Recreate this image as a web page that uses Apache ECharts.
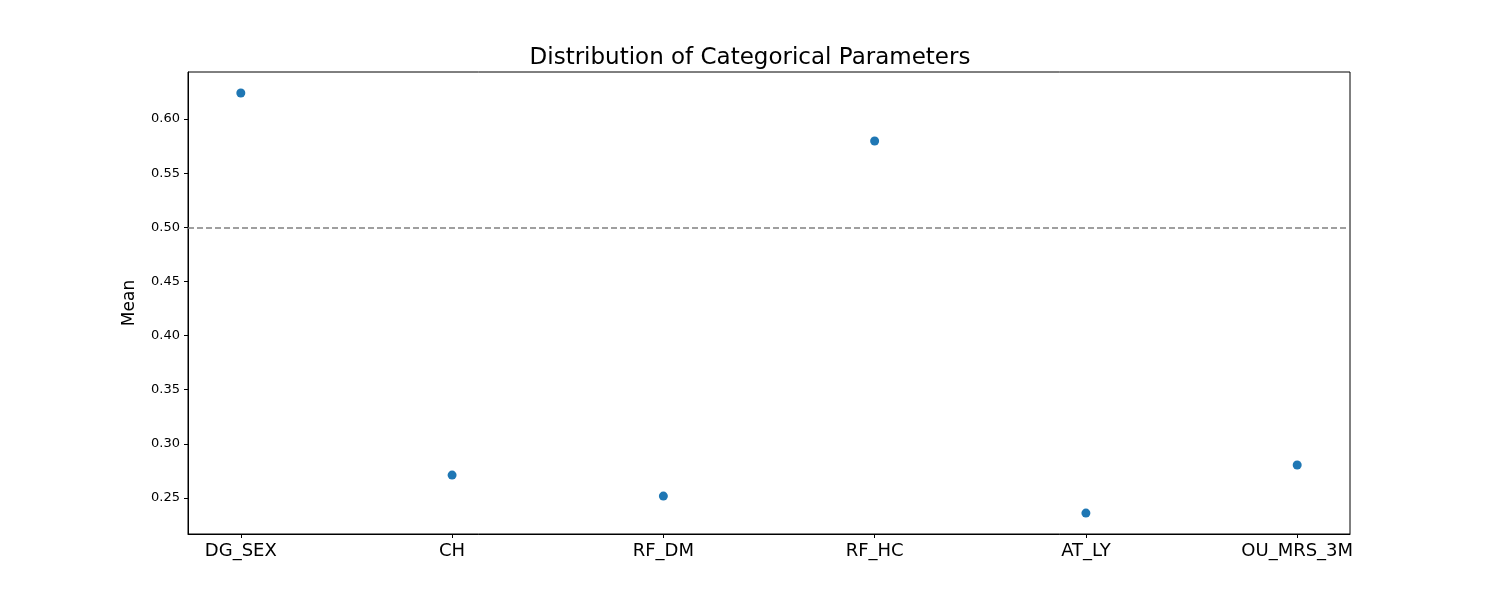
<!DOCTYPE html>
<html>
<head>
<meta charset="utf-8">
<script src="https://cdn.jsdelivr.net/npm/echarts@6/dist/echarts.min.js"></script>
<style>html,body{margin:0;background:#fff}#c{width:1500px;height:600px}</style>
</head>
<body>
<div id="c"></div>
<script>
const categories = ['DG_SEX', 'CH', 'RF_DM', 'RF_HC', 'AT_LY', 'OU_MRS_3M']
const means = [0.624, 0.2712, 0.2518, 0.5797, 0.2361, 0.2805]
const yTicks = [0.25, 0.30, 0.35, 0.40, 0.45, 0.50, 0.55, 0.60]
const refLine = 0.5

const chart = echarts.init(document.getElementById('c'))
const font = 'DejaVu Sans'
chart.setOption({
    animation: false,
    title: {
        text: 'Distribution of Categorical Parameters',
        left: 'center', top: 42,
        textStyle: { fontFamily: font, fontSize: 23, fontWeight: 'normal', color: '#000' }
    },
    grid: {
        left: 188, right: 150, top: 72, bottom: 66,
        show: true, borderColor: '#000', borderWidth: 1
    },
    xAxis: {
        type: 'value', min: -0.25, max: 5.25,
        splitLine: { show: false },
        axisLine: { onZero: false, lineStyle: { color: '#000' } },
        axisTick: { customValues: categories.map((c, i) => i), length: 4, lineStyle: { color: '#000' } },
        axisLabel: {
            customValues: categories.map((c, i) => i),
            formatter: v => categories[Math.round(v)],
            fontFamily: font, fontSize: 18, color: '#000', margin: 8
        }
    },
    yAxis: {
        type: 'value', min: 0.2168, max: 0.6434,
        name: 'Mean', nameLocation: 'middle', nameGap: 50,
        nameTextStyle: { fontFamily: font, fontSize: 17, color: '#000' },
        splitLine: { show: false },
        axisLine: { show: true, onZero: false, lineStyle: { color: '#000' } },
        axisTick: { show: true, customValues: yTicks, length: 4, lineStyle: { color: '#000' } },
        axisLabel: {
            customValues: yTicks,
            formatter: v => v.toFixed(2),
            fontFamily: font, fontSize: 13, color: '#000', margin: 8
        }
    },
    series: [{
        type: 'scatter',
        data: means.map((m, i) => [i, m]),
        symbolSize: 9,
        itemStyle: { color: '#1f77b4', opacity: 1 },
        markLine: {
            silent: true, symbol: 'none', label: { show: false },
            lineStyle: { color: '#808080', type: [6, 3], width: 1.5 },
            data: [{ yAxis: refLine }]
        }
    }]
})
</script>
</body>
</html>
